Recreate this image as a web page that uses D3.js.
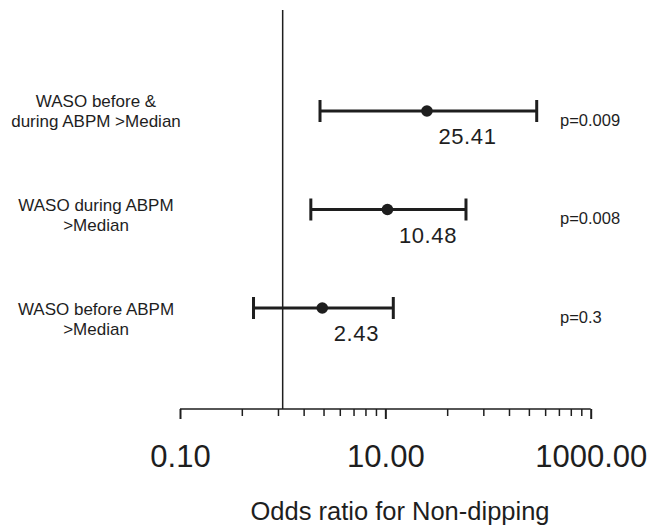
<!DOCTYPE html>
<html>
<head>
<meta charset="utf-8">
<script src="https://cdn.jsdelivr.net/npm/d3@7"></script>
<style>
  html, body { margin: 0; padding: 0; background: #fff; }
  svg { display: block; font-family: "Liberation Sans", Arial, sans-serif; }
</style>
</head>
<body>
<svg id="chart" width="655" height="525"></svg>
<script>
// ---- data ----
const categories = [
  "WASO before & during ABPM >Median",
  "WASO during ABPM >Median",
  "WASO before ABPM >Median"
];
const labelLines = [
  ["WASO before &", "during ABPM >Median"],
  ["WASO during ABPM", ">Median"],
  ["WASO before ABPM", ">Median"]
];
const oddsRatio = [25.41, 10.48, 2.43];
const ciLower = [2.31, 1.88, 0.52];
const ciUpper = [298, 61, 11.95];
const orLabels = ["25.41", "10.48", "2.43"];
const pValues = ["p=0.009", "p=0.008", "p=0.3"];
const majorTicks = [0.1, 10, 1000];
const majorTickLabels = ["0.10", "10.00", "1000.00"];
const minorTicks = [0.4, 0.9, 1.6, 2.5, 3.6, 4.9, 6.4, 8.1, 40, 90, 160, 250, 360, 490, 640, 810];
const referenceValue = 1;
const xTitle = "Odds ratio for Non-dipping";

// ---- layout ----
const ink = "#1e1e1e";
const svg = d3.select("#chart");
const x = d3.scaleLog().domain([0.1, 1000]).range([180, 590.7]);
const y = d3.scalePoint().domain(categories).range([111, 308]);
const yLabel = d3.scalePoint().domain(categories).range([116.5, 325]);
const axisY = 409;

const rows = categories.map((c, i) => ({
  cat: c, lines: labelLines[i], or: oddsRatio[i], lo: ciLower[i], hi: ciUpper[i],
  orLabel: orLabels[i], p: pValues[i]
}));

// reference line at OR = 1
svg.append("line")
  .attr("x1", x(referenceValue)).attr("x2", x(referenceValue))
  .attr("y1", 10).attr("y2", axisY)
  .attr("stroke", ink).attr("stroke-width", 1.5);

// x axis (minor ticks)
const minorAxis = d3.axisBottom(x).tickValues(minorTicks).tickSize(7).tickFormat("");
const gMinor = svg.append("g").attr("transform", `translate(0,${axisY})`).call(minorAxis);
gMinor.select(".domain").remove();
gMinor.selectAll(".tick line").attr("stroke", ink).attr("stroke-width", 1.5);

// x axis (major ticks + labels)
const majorAxis = d3.axisBottom(x).tickValues(majorTicks).tickSize(10).tickSizeOuter(0)
  .tickPadding(26)
  .tickFormat((d, i) => majorTickLabels[i]);
const gMajor = svg.append("g").attr("transform", `translate(0,${axisY})`).call(majorAxis);
gMajor.select(".domain").attr("stroke", ink).attr("stroke-width", 1.5)
  .attr("d", `M${x(0.1)},0H${x(1000)}`);
gMajor.selectAll(".tick line").attr("stroke", ink).attr("stroke-width", 2);
gMajor.selectAll(".tick text")
  .attr("fill", ink)
  .attr("font-size", 31)
  .attr("font-family", "Liberation Sans, Arial, sans-serif")
  .attr("dy", null)
  .attr("y", 58);

// axis title
svg.append("text")
  .attr("x", 400).attr("y", 520)
  .attr("text-anchor", "middle")
  .attr("font-size", 25.5)
  .attr("fill", ink)
  .text(xTitle);

// CI bars
const g = svg.append("g");
const rowG = g.selectAll("g.row").data(rows).enter().append("g").attr("class", "row");

rowG.append("line")
  .attr("x1", d => x(d.lo)).attr("x2", d => x(d.hi))
  .attr("y1", d => y(d.cat)).attr("y2", d => y(d.cat))
  .attr("stroke", ink).attr("stroke-width", 3);

rowG.append("line")
  .attr("x1", d => x(d.lo)).attr("x2", d => x(d.lo))
  .attr("y1", d => y(d.cat) - 11).attr("y2", d => y(d.cat) + 11)
  .attr("stroke", ink).attr("stroke-width", 3);

rowG.append("line")
  .attr("x1", d => x(d.hi)).attr("x2", d => x(d.hi))
  .attr("y1", d => y(d.cat) - 11).attr("y2", d => y(d.cat) + 11)
  .attr("stroke", ink).attr("stroke-width", 3);

rowG.append("circle")
  .attr("cx", d => x(d.or)).attr("cy", d => y(d.cat))
  .attr("r", 5.8).attr("fill", ink);

// OR value labels
rowG.append("text")
  .attr("x", d => x(d.or) + 11.5).attr("y", d => y(d.cat) + 33)
  .attr("font-size", 22).attr("letter-spacing", 0.6)
  .attr("fill", ink)
  .text(d => d.orLabel);

// p values
rowG.append("text")
  .attr("x", 560).attr("y", d => y(d.cat) + 14.5)
  .attr("font-size", 16.5)
  .attr("fill", ink)
  .text(d => d.p);

// row labels
rowG.append("text")
  .attr("text-anchor", "middle")
  .attr("font-size", 17)
  .attr("fill", ink)
  .selectAll("tspan").data(d => d.lines.map((t, j) => ({t, j, cat: d.cat}))).enter()
  .append("tspan")
  .attr("x", 96)
  .attr("y", d => yLabel(d.cat) - 10 + d.j * 20)
  .text(d => d.t);
</script>
</body>
</html>
